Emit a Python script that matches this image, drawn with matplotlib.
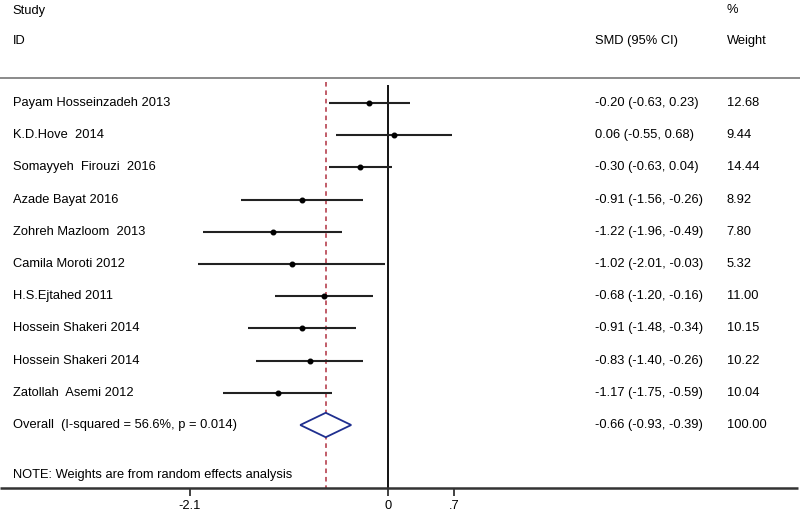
import matplotlib
matplotlib.use("Agg")
import matplotlib.pyplot as plt
from matplotlib.patches import Polygon

# ------------------------------------------------
# Data
# ------------------------------------------------
studies = [
    "Payam Hosseinzadeh 2013",
    "K.D.Hove  2014",
    "Somayyeh  Firouzi  2016",
    "Azade Bayat 2016",
    "Zohreh Mazloom  2013",
    "Camila Moroti 2012",
    "H.S.Ejtahed 2011",
    "Hossein Shakeri 2014",
    "Hossein Shakeri 2014",
    "Zatollah  Asemi 2012",
]
smd = [-0.20, 0.06, -0.30, -0.91, -1.22, -1.02, -0.68, -0.91, -0.83, -1.17]
ci_low = [-0.63, -0.55, -0.63, -1.56, -1.96, -2.01, -1.20, -1.48, -1.40, -1.75]
ci_high = [0.23, 0.68, 0.04, -0.26, -0.49, -0.03, -0.16, -0.34, -0.26, -0.59]
weights = [12.68, 9.44, 14.44, 8.92, 7.80, 5.32, 11.00, 10.15, 10.22, 10.04]

overall_label = "Overall  (I-squared = 56.6%, p = 0.014)"
overall_smd = -0.66
overall_low = -0.93
overall_high = -0.39
overall_weight = 100.00

tick_values = [-2.1, 0, 0.7]
tick_labels = ["-2.1", "0", ".7"]

# ------------------------------------------------
# Figure: one axes over the whole canvas
# ------------------------------------------------
plt.rcParams["font.family"] = ["Liberation Sans", "DejaVu Sans"]
fs = 9.3

fig = plt.figure(figsize=(8, 5.17), dpi=100)
ax = fig.add_axes([0, 0, 1, 1])
ax.set_xlim(-4.114, 4.369)
ax.set_ylim(13.857, -2.199)
ax.axis("off")

xmin, xmax = ax.get_xlim()
x_label = -3.98
x_smd = 2.2
x_weight = 3.59

rows = list(range(1, len(studies) + 1))
overall_row = len(studies) + 1

# ------------------------------------------------
# Headers and rules
# ------------------------------------------------
ax.text(x_label, -1.87, "Study", fontsize=fs, va="center", ha="left")
ax.text(x_label, -0.93, "ID", fontsize=fs, va="center", ha="left")
ax.text(x_smd, -0.93, "SMD (95% CI)", fontsize=fs, va="center", ha="left")
ax.text(x_weight, -1.9, "%", fontsize=fs, va="center", ha="left")
ax.text(x_weight, -0.93, "Weight", fontsize=fs, va="center", ha="left")
ax.hlines(0.22, xmin, xmax, color="#8a8a8a", linewidth=1.4)

# Reference lines
ax.vlines(0, 0.45, 12.96, color="black", linewidth=1.3)
ax.vlines(overall_smd, 0.35, 12.96, color="#b03040", linewidth=1.1,
          linestyles=(0, (3, 2.5)))

# ------------------------------------------------
# Study rows
# ------------------------------------------------
for r, name, m, lo, hi, w in zip(rows, studies, smd, ci_low, ci_high, weights):
    ax.hlines(r, lo, hi, color="#222222", linewidth=1.5)
    ax.plot(m, r, "o", color="black", markersize=3.3)
    ax.text(x_label, r, name, fontsize=fs, va="center", ha="left")
    ax.text(x_smd, r, f"{m:.2f} ({lo:.2f}, {hi:.2f})", fontsize=fs,
            va="center", ha="left")
    ax.text(x_weight, r, f"{w:.2f}", fontsize=fs, va="center", ha="left")

# Overall diamond
dh = 0.38
diamond = Polygon(
    [(overall_low, overall_row), (overall_smd, overall_row - dh),
     (overall_high, overall_row), (overall_smd, overall_row + dh)],
    closed=True, facecolor="white", edgecolor="#1f2f8f", linewidth=1.3,
    zorder=3)
ax.add_patch(diamond)
ax.text(x_label, overall_row, overall_label, fontsize=fs, va="center", ha="left")
ax.text(x_smd, overall_row,
        f"{overall_smd:.2f} ({overall_low:.2f}, {overall_high:.2f})",
        fontsize=fs, va="center", ha="left")
ax.text(x_weight, overall_row, f"{overall_weight:.2f}", fontsize=fs,
        va="center", ha="left")

ax.text(x_label, 12.55, "NOTE: Weights are from random effects analysis",
        fontsize=fs, va="center", ha="left")

# ------------------------------------------------
# Bottom axis
# ------------------------------------------------
ax.hlines(12.96, xmin, xmax * 0.995, color="#333333", linewidth=1.8)
for t, lab in zip(tick_values, tick_labels):
    ax.vlines(t, 12.96, 13.2, color="#333333", linewidth=1.3)
    ax.text(t, 13.5, lab, fontsize=fs, va="center", ha="center")

fig.savefig("out.png", dpi=100)
